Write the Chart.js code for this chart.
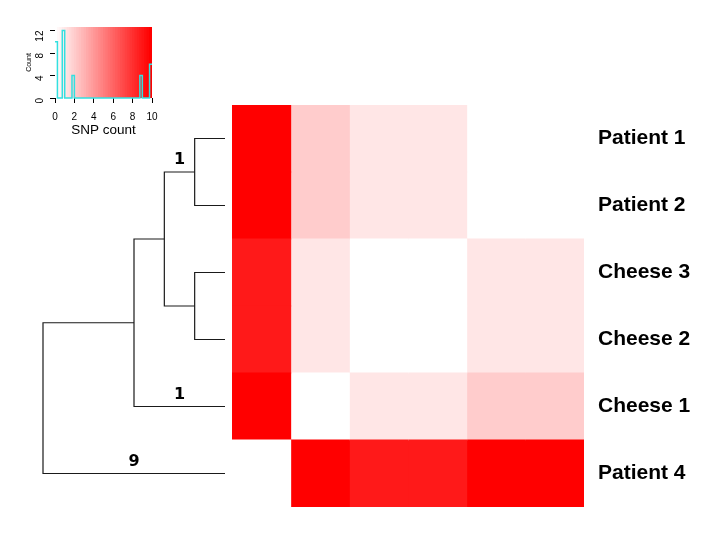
<!DOCTYPE html>
<html>
<head>
<meta charset="utf-8">
<script src="https://cdn.jsdelivr.net/npm/chart.js@4.4.1/dist/chart.umd.min.js"></script>
<style>
  html, body { margin: 0; padding: 0; background: #ffffff; }
  #wrap { position: relative; width: 724px; height: 549px; overflow: hidden; }
  canvas { position: absolute; left: 0; top: 0; }
</style>
</head>
<body>
<div id="wrap">
  <canvas id="heat" width="724" height="549"></canvas>
  <canvas id="dendro" width="724" height="549"></canvas>
  <canvas id="key" width="724" height="549"></canvas>
</div>
<script>
// ---------------- data ----------------
const rowLabels = ["Patient 1", "Patient 2", "Cheese 3", "Cheese 2", "Cheese 1", "Patient 4"];
const colLabels = ["Patient 4", "Cheese 1", "Cheese 2", "Cheese 3", "Patient 2", "Patient 1"];
// SNP distances, one array per row (columns in colLabels order)
const rowPatient1 = [10, 2, 1, 1, 0, 0];
const rowPatient2 = [10, 2, 1, 1, 0, 0];
const rowCheese3  = [9, 1, 0, 0, 1, 1];
const rowCheese2  = [9, 1, 0, 0, 1, 1];
const rowCheese1  = [10, 0, 1, 1, 2, 2];
const rowPatient4 = [0, 10, 9, 9, 10, 10];
const snpMatrix = [rowPatient1, rowPatient2, rowCheese3, rowCheese2, rowCheese1, rowPatient4];

// dendrogram: leaves 0..5 follow rowLabels, merge nodes are 6..10
const mergeLeft   = [0, 2, 6, 8, 9];
const mergeRight  = [1, 3, 7, 4, 5];
const mergeHeight = [1, 1, 2, 3, 6];
// edge labels (node whose branch is labelled, text)
const edgeLabelNode = [6, 4, 5];
const edgeLabelText = ["1", "1", "9"];

// colour key
const keyMin = 0, keyMax = 10, keyBins = 40;
const keyTicksX = [0, 2, 4, 6, 8, 10];
const keyTicksY = [0, 2, 4, 6, 8, 10, 12];
const keyLabelsY = [0, 4, 8, 12];

// ---------------- helpers ----------------
function ramp(t) {
  const c = Math.round(255 * (1 - t));
  return `rgb(255,${c},${c})`;
}
function cellColor(v) { return ramp((v - keyMin) / (keyMax - keyMin)); }

const FONT = "'Liberation Sans', Arial, Helvetica, sans-serif";
Chart.defaults.font.family = FONT;
Chart.defaults.color = "#000";

// ---------------- heatmap ----------------
const heatDatasets = colLabels.map((c, ci) => ({
  label: c,
  data: rowLabels.map((r, ri) => [ci, ci + 1]),
  backgroundColor: rowLabels.map((r, ri) => cellColor(snpMatrix[ri][ci])),
  borderWidth: 0,
  grouped: false,
  barPercentage: 1,
  categoryPercentage: 1,
  inflateAmount: 0.5
}));

new Chart(document.getElementById("heat"), {
  type: "bar",
  data: { labels: rowLabels, datasets: heatDatasets },
  options: {
    indexAxis: "y",
    responsive: false,
    animation: false,
    devicePixelRatio: 1,
    layout: { padding: { left: 232, top: 105, bottom: 42, right: 0 } },
    plugins: { legend: { display: false }, tooltip: { enabled: false } },
    scales: {
      x: { type: "linear", min: 0, max: colLabels.length, display: false },
      y: {
        type: "category",
        position: "right",
        grid: { display: false, drawTicks: false },
        border: { display: false },
        ticks: { padding: 14, color: "#000", font: { size: 21, weight: "bold", family: FONT } },
        afterFit: s => { s.width = 140; }
      }
    }
  }
});

// ---------------- dendrogram ----------------
const nLeaves = rowLabels.length;
const nodeY = rowLabels.map((r, i) => i);
const nodeH = rowLabels.map(() => 0);
const parentOf = {};
mergeLeft.forEach((a, m) => {
  const b = mergeRight[m];
  const id = nLeaves + m;
  nodeY[id] = (nodeY[a] + nodeY[b]) / 2;
  nodeH[id] = mergeHeight[m];
  parentOf[a] = id; parentOf[b] = id;
});
const dendroDatasets = mergeLeft.map((a, m) => {
  const b = mergeRight[m];
  const h = mergeHeight[m];
  return {
    type: "line",
    data: [
      { x: nodeH[a], y: nodeY[a] },
      { x: h, y: nodeY[a] },
      { x: h, y: nodeY[b] },
      { x: nodeH[b], y: nodeY[b] }
    ],
    borderColor: "#1a1a1a",
    borderWidth: 1.2,
    pointRadius: 0,
    tension: 0,
    fill: false,
    clip: false
  };
});

const edgeLabelPlugin = {
  id: "edgeLabels",
  afterDatasetsDraw(chart) {
    const { ctx, scales } = chart;
    ctx.save();
    ctx.font = "bold 16px 'DejaVu Sans', sans-serif";
    ctx.fillStyle = "#000";
    ctx.textAlign = "center";
    ctx.textBaseline = "bottom";
    edgeLabelNode.forEach((n, i) => {
      const p = parentOf[n];
      const xv = (nodeH[n] + nodeH[p]) / 2;
      const px = scales.x.getPixelForValue(xv);
      const py = scales.y.getPixelForValue(nodeY[n]);
      ctx.fillText(edgeLabelText[i], px, py - 4);
    });
    ctx.restore();
  }
};

new Chart(document.getElementById("dendro"), {
  type: "scatter",
  data: { datasets: dendroDatasets },
  options: {
    responsive: false,
    animation: false,
    devicePixelRatio: 1,
    layout: { padding: { left: 43, right: 724 - 225, top: 105, bottom: 42 } },
    plugins: { legend: { display: false }, tooltip: { enabled: false } },
    scales: {
      x: { type: "linear", min: 0, max: Math.max(...mergeHeight), reverse: true, display: false },
      y: { type: "linear", min: -0.5, max: nLeaves - 0.5, reverse: true, display: false }
    }
  },
  plugins: [edgeLabelPlugin]
});

// ---------------- colour key with histogram ----------------
const binW = (keyMax - keyMin) / keyBins;
const yTop = 12 / 0.95;
const breaks = [];
for (let i = 0; i <= keyBins; i++) breaks.push(keyMin + i * binW);
const counts = new Array(keyBins).fill(0);
snpMatrix.forEach(row => row.forEach(v => {
  let k = Math.ceil((v - keyMin) / binW) - 1;
  if (k < 0) k = 0;
  if (k >= keyBins) k = keyBins - 1;
  counts[k]++;
}));
const histPoints = breaks.map((b, i) => ({ x: b, y: i < keyBins ? counts[i] : counts[keyBins - 1] }));
const bandData = counts.map((c, i) => ({ x: breaks[i] + binW / 2, y: [0, yTop] }));
const bandColors = counts.map((c, i) => ramp(i / (keyBins - 1)));

new Chart(document.getElementById("key"), {
  type: "bar",
  data: {
    datasets: [
      {
        type: "line",
        data: histPoints,
        stepped: "before",
        borderColor: "#33e0e0",
        borderWidth: 1.5,
        pointRadius: 0,
        fill: false,
        clip: false,
        order: 0
      },
      {
        type: "bar",
        data: bandData,
        backgroundColor: bandColors,
        borderWidth: 0,
        barPercentage: 1,
        categoryPercentage: 1,
        inflateAmount: 0.5,
        order: 1
      }
    ]
  },
  options: {
    responsive: false,
    animation: false,
    devicePixelRatio: 1,
    layout: { padding: { left: 25, right: 724 - 152, top: 27, bottom: 549 - 98 - 40 } },
    plugins: { legend: { display: false }, tooltip: { enabled: false } },
    scales: {
      x: {
        type: "linear",
        offset: false,
        min: keyMin, max: keyMax,
        afterBuildTicks: s => { s.ticks = keyTicksX.map(v => ({ value: v })); },
        ticks: { font: { size: 10 }, color: "#000", padding: 8, maxRotation: 0 },
        grid: { drawOnChartArea: false, offset: false, tickLength: 5, color: "#000", tickColor: "#000" },
        border: { display: false },
        title: { display: true, text: "SNP count", font: { size: 13.5 }, color: "#000", padding: { top: 3, bottom: 0 } },
        afterFit: s => { s.height = 40; }
      },
      y: {
        type: "linear",
        min: 0, max: yTop,
        afterBuildTicks: s => { s.ticks = keyTicksY.map(v => ({ value: v })); },
        ticks: {
          font: { size: 10 }, color: "#000", padding: 10,
          minRotation: 90, maxRotation: 90,
          callback: v => keyLabelsY.includes(v) ? String(v) : ""
        },
        grid: { drawOnChartArea: false, tickLength: 5, color: "#000", tickColor: "#000" },
        border: { display: true, color: "#000" },
        title: { display: true, text: "Count", font: { size: 7 }, color: "#000", padding: 0 },
        afterFit: s => { s.width = 30; }
      }
    }
  }
});
</script>
</body>
</html>
